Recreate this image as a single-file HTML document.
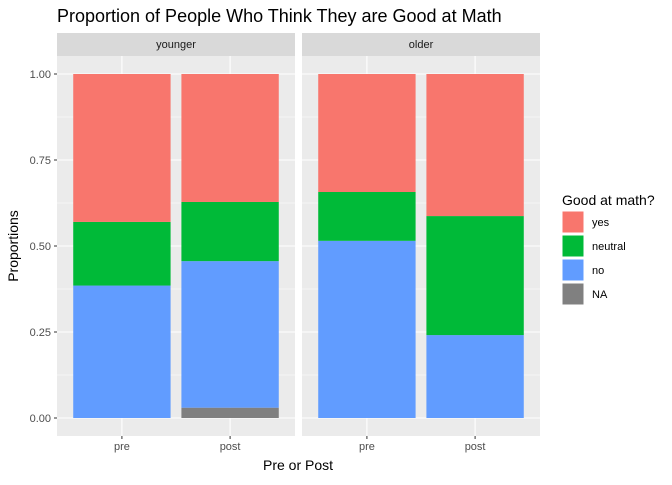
<!DOCTYPE html>
<html><head><meta charset="utf-8"><style>
body{margin:0;background:#fff;font-family:"Liberation Sans",sans-serif;}
</style></head><body>
<svg id="c" width="672" height="480" xmlns="http://www.w3.org/2000/svg" font-family="Liberation Sans, sans-serif">
<text x="57" y="22" font-size="18" fill="#000">Proportion of People Who Think They are Good at Math</text>
<g id="plot"></g>
<text x="298" y="470" font-size="14" text-anchor="middle">Pre or Post</text>
<text transform="translate(18,246) rotate(-90)" font-size="14" text-anchor="middle">Proportions</text>
<g>
<text x="562" y="205" font-size="14">Good at math?</text>
<g id="leg"></g>
</g>
</svg>
<script>
const panels=["younger","older"];
const categories=["pre","post"];
const fillLevels=["NA","no","neutral","yes"];
const colors={yes:"#F8766D",neutral:"#00BA38",no:"#619CFF",NA:"#808080"};
// values per panel, per category: [NA,no,neutral,yes]
const younger_pre=[0,0.385,0.185,0.43];
const younger_post=[0.03,0.426,0.172,0.372];
const older_pre=[0,0.515,0.142,0.343];
const older_post=[0,0.241,0.346,0.413];
const yTicks=[0,0.25,0.5,0.75,1];
const yTickLabels=["0.00","0.25","0.50","0.75","1.00"];
const data={younger:[younger_pre,younger_post],older:[older_pre,older_post]};
const NS="http://www.w3.org/2000/svg";
const plot=document.getElementById('plot');
function mk(t,a,p){const e=document.createElementNS(NS,t);for(const k in a)e.setAttribute(k,a[k]);(p||plot).appendChild(e);return e;}
const topY=56,botY=436,y0=418,y1=74;
const y=v=>y0-(y0-y1)*v;
const pw=238,px=[57,302];
panels.forEach((pn,pi)=>{
  const x0=px[pi];
  const xs=i=>x0+((i+1)-0.4)/2.2*pw;
  const bg=mk('rect',{x:x0,y:topY,width:pw,height:botY-topY,fill:'#EBEBEB'});
  
  
  const st=mk('rect',{x:x0,y:33,width:pw,height:23,fill:'#D9D9D9'});
  
  
  const stt=mk('text',{x:x0+pw/2,y:48,'font-size':11,'text-anchor':'middle',fill:'#1A1A1A'});
  stt.textContent=pn;
  
  
  for(let i=0;i<yTicks.length-1;i++){const m=(yTicks[i]+yTicks[i+1])/2;mk('line',{x1:x0,x2:x0+pw,y1:y(m),y2:y(m),stroke:'#fff','stroke-width':0.5});}
  yTicks.forEach(t=>mk('line',{x1:x0,x2:x0+pw,y1:y(t),y2:y(t),stroke:'#fff','stroke-width':1.1}));
  categories.forEach((c,ci)=>{
    const cx=xs(ci);
    mk('line',{x1:cx,x2:cx,y1:topY,y2:botY,stroke:'#fff','stroke-width':1.1});
    let cum=0;const bw=0.9/2.2*pw;
    data[pn][ci].forEach((v,li)=>{
      if(v<=0)return;
      const r=mk('rect',{x:cx-bw/2,y:y(cum+v),width:bw,height:y(cum)-y(cum+v),fill:colors[fillLevels[li]]});
      
      
      cum+=v;
    });
    mk('line',{x1:cx,x2:cx,y1:botY,y2:botY+3,stroke:'#333'});
    const tl=mk('text',{x:cx,y:botY+14,'font-size':11,'text-anchor':'middle',fill:'#4D4D4D'});
    tl.textContent=c;
    
    
  });
});
yTicks.forEach((t,i)=>{
  mk('line',{x1:54,x2:57,y1:y(t),y2:y(t),stroke:'#333'});
  const tl=mk('text',{x:51,y:y(t)+4,'font-size':11,'text-anchor':'end',fill:'#4D4D4D'});
  tl.textContent=yTickLabels[i];
  
  
});
const leg=document.getElementById('leg');
["yes","neutral","no","NA"].forEach((l,i)=>{
  const yy=211+i*24;
  const r=mk('rect',{x:562,y:yy,width:22,height:22,fill:colors[l],stroke:'#fff'},leg);
  
  
  const t=mk('text',{x:592,y:yy+15,'font-size':11,fill:'#000'},leg);
  t.textContent=l;
  
  
});
</script>
</body></html>
